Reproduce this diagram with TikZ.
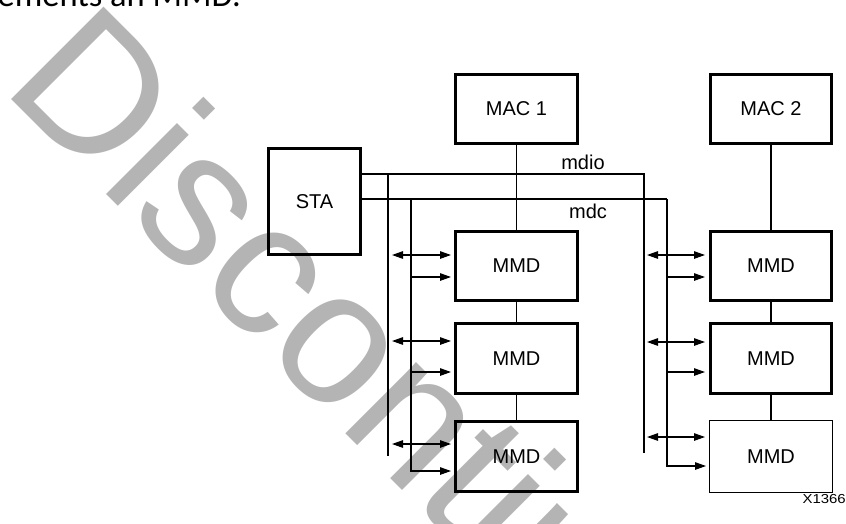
\documentclass[tikz,border=0pt]{standalone}
\usepackage{fontspec}
\setmainfont{Liberation Sans}
\newfontfamily\carlito{Carlito}
\usetikzlibrary{arrows.meta}
\definecolor{wmgray}{RGB}{180,180,180}
\begin{document}
\begin{tikzpicture}[x=1pt,y=-1pt,
  box/.style={draw,line width=2.8pt,inner sep=0pt,font=\fontsize{20}{20}\selectfont},
  thinbox/.style={box,line width=1.2pt},
  wire/.style={line width=1.2pt},
  dbl/.style={wire,{Triangle[length=11pt,width=7.5pt]}-{Triangle[length=11pt,width=7.5pt]}},
  sgl/.style={wire,-{Triangle[length=11pt,width=7.5pt]}},
  lbl/.style={font=\fontsize{20}{20}\selectfont,inner sep=0pt}]
\useasboundingbox (0,0) rectangle (846,523);
\clip (0,0) rectangle (846,523);
% watermark and page text
\node[rotate=-45,anchor=base west,inner sep=0pt,text=wmgray,font=\fontsize{190}{190}\selectfont] (wm) at (0,88) {Discontinued};
\node[anchor=base east,inner sep=0pt,font=\carlito\fontsize{34.5}{34.5}\selectfont] (top) at (241,6) {implements an MMD.};
% boxes
\node[box,minimum width=92.2pt,minimum height=106.2pt] (sta) at (314.5,201.5) {STA};
\node[box,minimum width=122.2pt,minimum height=69.2pt] (mac1) at (516.5,109) {MAC 1};
\node[box,minimum width=121.2pt,minimum height=69.2pt] (mac2) at (771,109) {MAC 2};
\node[box,minimum width=122.2pt,minimum height=69.2pt] (m11) at (516.5,266) {MMD};
\node[box,minimum width=122.2pt,minimum height=70.2pt] (m12) at (516.5,358.5) {MMD};
\node[box,minimum width=122.2pt,minimum height=70.2pt] (m13) at (516.5,456.5) {MMD};
\node[box,minimum width=121.2pt,minimum height=69.2pt] (m21) at (771,266) {MMD};
\node[box,minimum width=121.2pt,minimum height=70.2pt] (m22) at (771,358.5) {MMD};
\node[thinbox,minimum width=122.8pt,minimum height=71.8pt] (m23) at (771,456.5) {MMD};
% vertical chains
\draw[wire] (mac1.south) -- (m11.north) (m11.south) -- (m12.north) (m12.south) -- (m13.north);
\draw[wire] (mac2.south) -- (m21.north) (m21.south) -- (m22.north) (m22.south) -- (m23.north);
% bus coordinates
\coordinate (mdioC) at (644,174);
\coordinate (mdioE) at (644,453);
\coordinate (tapA) at (388,174);
\coordinate (tapAE) at (388,456);
\coordinate (mdcC) at (667,199);
\coordinate (mdcE) at (667,466);
\coordinate (tapB) at (411,199);
\coordinate (tapBE) at (411,471);
% mdio
\draw[wire] (sta.east |- mdioC) -- (mdioC) -- (mdioE);
\draw[wire] (tapA) -- (tapAE);
% mdc
\draw[wire] (sta.east |- mdcC) -- (mdcC);
\draw[sgl] (mdcC) -- (mdcE) -- ([xshift=-3pt]m23.west |- mdcE);
\draw[sgl] (tapB) -- (tapBE) -- ([xshift=-3pt]m13.west |- tapBE);
% labels
\node[lbl] (mdiolbl) at (583,162) {mdio};
\node[lbl] (mdclbl) at (588,211) {mdc};
% left column arrows
\draw[dbl] ([xshift=4pt]tapA |- 0,255) -- ([xshift=-3pt]m11.west |- 0,255);
\draw[sgl] (tapB |- 0,277) -- ([xshift=-3pt]m11.west |- 0,277);
\draw[dbl] ([xshift=4pt]tapA |- 0,341) -- ([xshift=-3pt]m12.west |- 0,341);
\draw[sgl] (tapB |- 0,372) -- ([xshift=-3pt]m12.west |- 0,372);
\draw[dbl] ([xshift=4pt]tapA |- 0,444) -- ([xshift=-3pt]m13.west |- 0,444);
% right column arrows
\draw[dbl] ([xshift=3pt]mdioC |- 0,255) -- ([xshift=-4pt]m21.west |- 0,255);
\draw[sgl] (mdcC |- 0,277) -- ([xshift=-4pt]m21.west |- 0,277);
\draw[dbl] ([xshift=3pt]mdioC |- 0,342) -- ([xshift=-4pt]m22.west |- 0,342);
\draw[sgl] (mdcC |- 0,372) -- ([xshift=-4pt]m22.west |- 0,372);
\draw[dbl] ([xshift=3pt]mdioC |- 0,437) -- ([xshift=-4pt]m23.west |- 0,437);
% figure id
\node[anchor=base east,inner sep=0pt,xscale=1.15,font=\fontsize{13}{13}\selectfont] (fid) at (846,503) {X1366};
\end{tikzpicture}
\end{document}
